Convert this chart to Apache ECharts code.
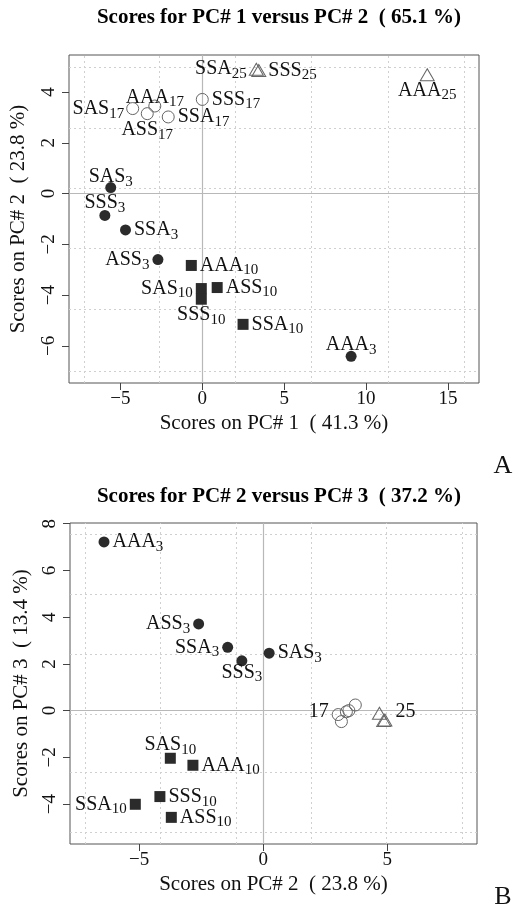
<!DOCTYPE html>
<html><head><meta charset="utf-8">
<script src="https://cdn.jsdelivr.net/npm/echarts@6/dist/echarts.min.js"></script>
<style>html,body{margin:0;padding:0;background:#fff}#c{width:515px;height:909px}</style>
</head><body><div id="c"></div>
<script>
// ---- data ----
const treatment = ['AAA','ASS','SAS','SSA','SSS','AAA','ASS','SAS','SSA','SSS','AAA','ASS','SAS','SSA','SSS','AAA','SSA','SSS'];
const week      = [3,3,3,3,3,10,10,10,10,10,17,17,17,17,17,25,25,25];
const pc1 = [9.09,-2.71,-5.59,-4.69,-5.95,-0.67,0.91,-0.06,2.49,-0.06,-2.90,-3.36,-4.25,-2.08,0.00,13.74,3.30,3.45];
const pc2 = [-6.41,-2.60,0.24,-1.43,-0.86,-2.83,-3.70,-3.74,-5.15,-4.16,3.45,3.15,3.35,3.02,3.71,4.68,4.90,4.85];
const pc3 = [7.22,3.71,2.46,2.71,2.13,-2.34,-4.57,-2.04,-4.01,-3.68,0.00,-0.47,-0.05,-0.17,0.24,-0.11,-0.40,-0.42];
const groups = [3,10,17,25];
const ticksA_x = [-5,0,5,10,15];
const ticksA_y = [-6,-4,-2,0,2,4];
const ticksB_x = [-5,0,5];
const ticksB_y = [-4,-2,0,2,4,6,8];
const gridA_x = [-7.2,-2.63,2.02,6.68,11.33,15.99];
const gridA_y = [4.98,2.59,0.2,-2.17,-4.57,-6.98];
const gridB_x = [-7.18,-4.13,-1.09,1.92,4.97,8.03];
const gridB_y = [7.55,4.98,2.41,-0.14,-2.65,-5.2];
const titleA = 'Scores for PC# 1 versus PC# 2  ( 65.1 %)';
const titleB = 'Scores for PC# 2 versus PC# 3  ( 37.2 %)';
const xNameA = 'Scores on PC# 1  ( 41.3 %)';
const yNameA = 'Scores on PC# 2  ( 23.8 %)';
const xNameB = 'Scores on PC# 2  ( 23.8 %)';
const yNameB = 'Scores on PC# 3  ( 13.4 %)';

// ---- label layout (style only): [position, distance] ----
const labPosA = {AAA3:['top',-4],ASS3:['left',3],SAS3:['top',-5],SSA3:['right',3],SSS3:['top',-3],
  AAA10:['right',3],ASS10:['right',3],SAS10:['left',3],SSA10:['right',3],SSS10:['bottom',0],
  AAA17:['top',-8],ASS17:['bottom',0],SAS17:['left',2],SSA17:['right',3],SSS17:['right',3],
  AAA25:['bottom',-1],SSA25:['left',2],SSS25:['right',2]};
const labPosB = {AAA3:['right',3],ASS3:['left',3],SAS3:['right',3],SSA3:['left',3],SSS3:['bottom',-4],
  AAA10:['right',3],ASS10:['right',3],SAS10:['top',-2],SSA10:['left',3],SSS10:['right',3]};
const groupLabB = {SSA17:['17','left',[0,-3]], SSA25:['25','right',[0,-8]]};

const SERIF = '"Liberation Serif","DejaVu Serif",serif';
const rich = {
  m:{fontFamily:SERIF,fontSize:20,color:'#111',lineHeight:20},
  s:{fontFamily:SERIF,fontSize:15,color:'#111',lineHeight:14,padding:[10,0,0,0]}
};
const gStyle = {
  3:{symbol:'circle',size:11,item:{color:'#2b2b2b',opacity:1}},
  10:{symbol:'rect',size:11,item:{color:'#2b2b2b',opacity:1}},
  17:{symbol:'circle',size:12,item:{color:'rgba(0,0,0,0)',borderColor:'#666',borderWidth:1,opacity:1}},
  25:{symbol:'triangle',size:[14,12],item:{color:'rgba(0,0,0,0)',borderColor:'#666',borderWidth:1,opacity:1}}
};
const minus = v => String(v).replace('-','\u2212');

function pts(xs, ys, g, labFn){
  const out=[];
  for(let i=0;i<treatment.length;i++){
    if(week[i]!==g) continue;
    const key = treatment[i]+week[i];
    const lab = labFn(key,i);
    const d = {value:[xs[i],ys[i]]};
    d.label = lab ? Object.assign({show:true,color:'#111',opacity:1,rich:rich},lab) : {show:false};
    out.push(d);
  }
  return out;
}
function labA(key,i){ const p=labPosA[key]; return {position:p[0],distance:p[1], formatter:'{m|'+treatment[i]+'}{s|'+week[i]+'}'}; }
function labB(key,i){
  const p=labPosB[key];
  if(p) return {position:p[0],distance:p[1], formatter:'{m|'+treatment[i]+'}{s|'+week[i]+'}'};
  if(groupLabB[key]) return {position:groupLabB[key][1], distance:3, offset:groupLabB[key][2], formatter:'{m|'+groupLabB[key][0]+'}'};
  return null;
}

function axis(gi, min, max, ticks, isY, name, gap){
  return {
    type:'value', gridIndex:gi, min:min, max:max,
    axisLine:{show:false,onZero:false},
    axisTick:{show:true,inside:false,length:7,lineStyle:{color:'#444'},customValues:ticks},
    axisLabel:{show:true,customValues:ticks,fontFamily:SERIF,fontSize:19,color:'#111',
      margin:isY?10:7,rotate:isY?90:0,formatter:minus},
    splitLine:{show:false},
    name:name,nameLocation:'middle',nameGap:gap,
    nameTextStyle:{fontFamily:SERIF,fontSize:21,color:'#111'}
  };
}
function gridSeries(xi, gx, gy){
  return [{
    type:'scatter',xAxisIndex:xi,yAxisIndex:xi,data:[],z:1,silent:true,
    markLine:{z:1,silent:true,symbol:'none',label:{show:false},animation:false,
      lineStyle:{type:[2,3],color:'#d0d0d0',width:1},
      data:gx.map(v=>({xAxis:v})).concat(gy.map(v=>({yAxis:v})))}
  },{
    type:'scatter',xAxisIndex:xi,yAxisIndex:xi,data:[],z:1,silent:true,
    markLine:{z:1,silent:true,symbol:'none',label:{show:false},animation:false,
      lineStyle:{type:'solid',color:'#b8b8b8',width:1.2},
      data:[{xAxis:0},{yAxis:0}]}
  }];
}
const series = [].concat(gridSeries(0,gridA_x,gridA_y), gridSeries(1,gridB_x,gridB_y));
groups.forEach(g=>{
  const st=gStyle[g];
  series.push({type:'scatter',xAxisIndex:0,yAxisIndex:0,symbol:st.symbol,symbolSize:st.size,
    itemStyle:st.item,z:3,data:pts(pc1,pc2,g,labA)});
  series.push({type:'scatter',xAxisIndex:1,yAxisIndex:1,symbol:st.symbol,symbolSize:st.size,
    itemStyle:st.item,z:3,data:pts(pc2,pc3,g,labB)});
});

const chart = echarts.init(document.getElementById('c'),null,{renderer:'canvas'});
chart.setOption({
  animation:false,
  backgroundColor:'#fff',
  grid:[
    {left:67,top:55,width:412,height:328,show:true,borderColor:'#555',borderWidth:1,containLabel:false},
    {left:70,top:523,width:407,height:321,show:true,borderColor:'#555',borderWidth:1,containLabel:false}
  ],
  xAxis:[axis(0,-8.14,16.9,ticksA_x,false,xNameA,30), axis(1,-7.78,8.61,ticksB_x,false,xNameB,30)],
  yAxis:[axis(0,-7.46,5.46,ticksA_y,true,yNameA,40), axis(1,-5.71,8.03,ticksB_y,true,yNameB,38)],
  graphic:[
    {type:'text',x:279,y:18,style:{text:titleA,font:'bold 21px '+SERIF,fill:'#000',align:'center',verticalAlign:'middle'}},
    {type:'text',x:279,y:497,style:{text:titleB,font:'bold 21px '+SERIF,fill:'#000',align:'center',verticalAlign:'middle'}},
    {type:'text',x:503,y:466,style:{text:'A',font:'26px '+SERIF,fill:'#111',align:'center',verticalAlign:'middle'}},
    {type:'text',x:503,y:897,style:{text:'B',font:'26px '+SERIF,fill:'#111',align:'center',verticalAlign:'middle'}}
  ],
  series:series
});
</script></body></html>
